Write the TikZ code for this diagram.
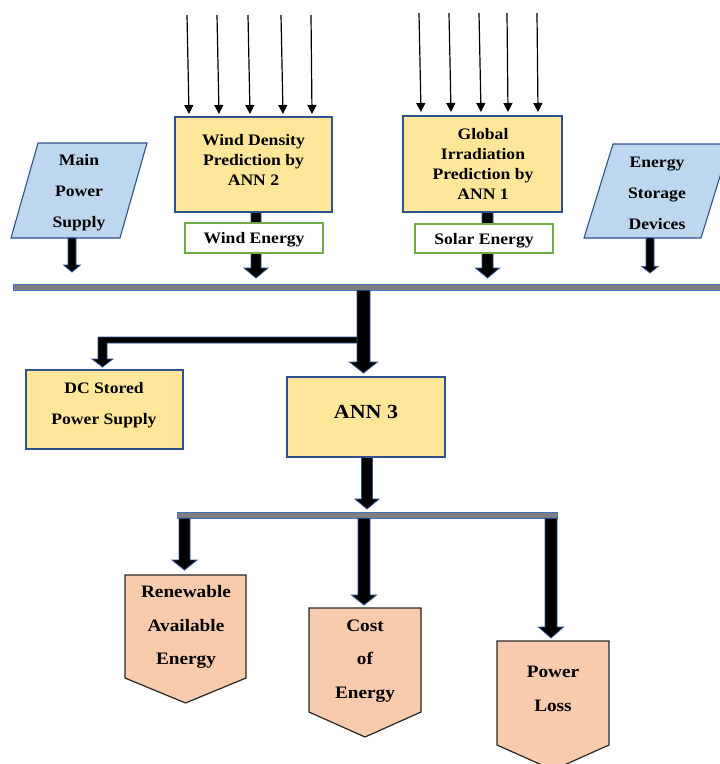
\documentclass[tikz,border=0pt]{standalone}
\usepackage{fontspec}
\setmainfont{Liberation Serif}[FakeStretch=1.1]
\usetikzlibrary{arrows.meta,calc}
\definecolor{boxfill}{HTML}{FFE699}
\definecolor{boxline}{HTML}{2F528F}
\definecolor{parafill}{HTML}{BDD7EE}
\definecolor{peach}{HTML}{F8CBAD}
\definecolor{greenline}{HTML}{70AD47}
\definecolor{busfill}{HTML}{7F7F7F}
\definecolor{busline}{HTML}{4472C4}
\tikzset{
 ybox/.style={draw=boxline, fill=boxfill, line width=1.1pt, inner sep=0pt},
 gbox/.style={draw=greenline, fill=white, line width=1.3pt, inner sep=0pt},
 para/.style={draw=boxline, fill=parafill, line width=1.1pt},
 pent/.style={draw=black!85, fill=peach, line width=1.2pt},
 busbar/.style={draw=busline, fill=busfill, line width=0.8pt, inner sep=0pt},
 blockarr/.style={draw=boxline, fill=black, line width=0.8pt, line join=miter},
 thinarr/.style={draw=black, line width=1.2pt, -{Triangle[width=9pt,length=9pt]}},
 lbl/.style={font=\fontsize{16}{20}\selectfont\bfseries, align=center, inner sep=0pt},
 lblwide/.style={font=\fontsize{16}{31}\selectfont\bfseries, align=center, inner sep=0pt},
 lblbig/.style={font=\fontsize{17.5}{33.5}\selectfont\bfseries, align=center, inner sep=0pt},
}
% block arrow: #1 start, #2 tip, #3 half shaft, #4 half head, #5 head length
\newcommand\barrow[5]{%
  \filldraw[blockarr] let \p1=(#1), \p2=(#2) in
    (\x2-#3,\y1) -- (\x2-#3,\y2+#5) -- (\x2-#4,\y2+#5) -- (\x2,\y2) --
    (\x2+#4,\y2+#5) -- (\x2+#3,\y2+#5) -- (\x2+#3,\y1) -- cycle;}
\begin{document}
\begin{tikzpicture}[x=1pt,y=-1pt]
\useasboundingbox (0,0) rectangle (720,764);
\clip (0,0) rectangle (720,764);

% thin input arrows
\foreach \i/\a/\b in {1/187/189,2/217/219,3/248/250,4/281/283,5/311/312} {
  \coordinate (wa\i) at (\a,15); \coordinate (wb\i) at (\b,114);
  \draw[thinarr] (wa\i) -- (wb\i);}
\foreach \i/\a/\b in {1/419/421,2/449/451,3/479/481,4/507/508,5/537/538} {
  \coordinate (sa\i) at (\a,13); \coordinate (sb\i) at (\b,112);
  \draw[thinarr] (sa\i) -- (sb\i);}

% main bus
\node[busbar, minimum width=709pt, minimum height=6pt, anchor=north west] (bus) at (13,283.5) {};

% wind
\node[ybox, minimum width=157pt, minimum height=95pt] (wind) at (253.5,164.5) {};
\node[lbl] (windtxt) at (253.5,160) {Wind Density\\Prediction by\\ANN 2};
\coordinate (wtip) at (256,278);
\barrow{wind.south}{wtip}{5pt}{12pt}{10pt}
\node[gbox, lbl, minimum width=138pt, minimum height=30pt] (wen) at (254,238) {};
\node[lbl] (wentxt) at (254,240) {Wind Energy};

% solar
\node[ybox, minimum width=159pt, minimum height=96pt] (solar) at (482.5,164) {};
\node[lbl] (soltxt) at (483,163.5) {Global\\Irradiation\\Prediction by\\ANN 1};
\coordinate (stip) at (487.5,278);
\barrow{solar.south}{stip}{5.5pt}{12pt}{10pt}
\node[gbox, lbl, minimum width=138pt, minimum height=29pt] (sen) at (484,238.5) {};
\node[lbl] (sentxt) at (484,240.5) {Solar Energy};

% main power supply
\draw[para] (11,238) -- (38,143) -- (147,143) -- (120,238) -- cycle;
\node[lblwide] (mps) at (79,192.5) {Main\\Power\\Supply};
\coordinate (mpsb) at (72,238); \coordinate (mtip) at (72,272);
\barrow{mpsb}{mtip}{4pt}{8.5pt}{7pt}

% energy storage
\draw[para] (584,238) -- (613,144) -- (730,144) -- (701,238) -- cycle;
\node[lblwide] (esd) at (657,193.5) {Energy\\Storage\\Devices};
\coordinate (esdb) at (650,238); \coordinate (etip) at (650,273);
\barrow{esdb}{etip}{4pt}{8pt}{6.5pt}

% DC stored and ANN 3
\node[ybox, minimum width=157pt, minimum height=79pt] (dc) at (104.5,409.5) {};
\node[lblwide] (dctxt) at (104,405.5) {DC Stored\\Power Supply};
\node[ybox, minimum width=158pt, minimum height=80pt] (ann) at (366,417) {};
\node[lbl, font=\fontsize{20}{24}\selectfont\bfseries] (anntxt) at (366,412) {ANN 3};

% elbow arrow to DC stored
\coordinate (elbA) at (363,340); \coordinate (dtip) at (102.5,367);
\filldraw[blockarr] let \p1=(elbA), \p2=(dtip) in
  (\x1,\y1+3pt) -- (\x2-4.5pt,\y1+3pt) -- (\x2-4.5pt,\y2+8pt) -- (\x2-10.5pt,\y2+8pt) -- (\x2,\y2)
  -- (\x2+10.5pt,\y2+8pt) -- (\x2+4.5pt,\y2+8pt) -- (\x2+4.5pt,\y1-3pt) -- (\x1,\y1-3pt);
% main vertical arrow to ANN 3
\coordinate (atip) at (363.5,373);
\barrow{bus.south}{atip}{6.5pt}{14pt}{11pt}

% ANN 3 to lower bus
\coordinate (btip) at (367,509);
\barrow{ann.south}{btip}{5.5pt}{12pt}{10pt}
\node[busbar, minimum width=380pt, minimum height=6pt, anchor=north west] (bus2) at (177,511.5) {};

% outputs
\coordinate (r1) at (184.5,570); \barrow{bus2.south}{r1}{5.5pt}{12.5pt}{10pt}
\coordinate (r2) at (364,605); \barrow{bus2.south}{r2}{6pt}{12.5pt}{10pt}
\coordinate (r3) at (551,638); \barrow{bus2.south}{r3}{6pt}{12.5pt}{11pt}

\draw[pent] (125,575) -- (246,575) -- (246,678) -- (185.5,703) -- (125,678) -- cycle;
\node[lblbig] (ren) at (186,627) {Renewable\\Available\\Energy};
\draw[pent] (309,608) -- (421,608) -- (421,712) -- (365,737) -- (309,712) -- cycle;
\node[lblbig] (cost) at (365,661) {Cost\\of\\Energy};
\draw[pent] (497,641) -- (609,641) -- (609,745) -- (553,770) -- (497,745) -- cycle;
\node[lblbig] (loss) at (553,689) {Power\\Loss};
\end{tikzpicture}
\end{document}
